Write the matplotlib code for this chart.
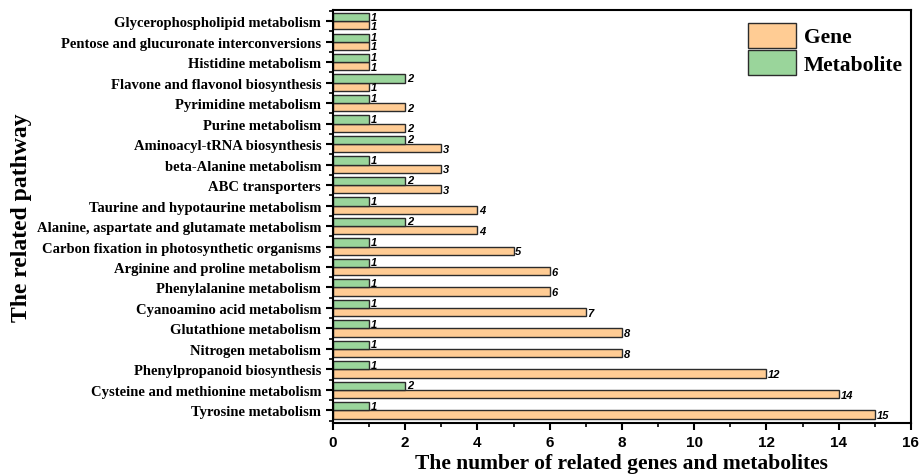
import matplotlib
matplotlib.use("Agg")
import matplotlib.pyplot as plt
import numpy as np
from matplotlib.ticker import MultipleLocator
from matplotlib.patches import Patch

pathways = [
    "Tyrosine metabolism",
    "Cysteine and methionine metabolism",
    "Phenylpropanoid biosynthesis",
    "Nitrogen metabolism",
    "Glutathione metabolism",
    "Cyanoamino acid metabolism",
    "Phenylalanine metabolism",
    "Arginine and proline metabolism",
    "Carbon fixation in photosynthetic organisms",
    "Alanine, aspartate and glutamate metabolism",
    "Taurine and hypotaurine metabolism",
    "ABC transporters",
    "beta-Alanine metabolism",
    "Aminoacyl-tRNA biosynthesis",
    "Purine metabolism",
    "Pyrimidine metabolism",
    "Flavone and flavonol biosynthesis",
    "Histidine metabolism",
    "Pentose and glucuronate interconversions",
    "Glycerophospholipid metabolism",
]
genes = [15, 14, 12, 8, 8, 7, 6, 6, 5, 4, 4, 3, 3, 3, 2, 2, 1, 1, 1, 1]
metabolites = [1, 2, 1, 1, 1, 1, 1, 1, 1, 2, 1, 2, 1, 2, 1, 1, 2, 1, 1, 1]

gene_color = "#FFCC94"
met_color = "#9AD59B"
edge = "#2b2b2b"
serif = "Liberation Serif"
sans = "Liberation Sans"

fig = plt.figure(figsize=(9.21, 4.77), dpi=100)
ax = fig.add_axes([0.3615, 0.111, 0.6275, 0.866])

y = np.arange(len(pathways))
h = 0.4
ax.barh(y - h / 2, genes, height=h, color=gene_color, edgecolor=edge, linewidth=1.0)
ax.barh(y + h / 2, metabolites, height=h, color=met_color, edgecolor=edge, linewidth=1.0)

# value labels at the bar ends
for yi, v in zip(y, genes):
    ax.text(v + 0.05, yi - h / 2 - 0.03, str(v), fontsize=8, fontstyle="italic", fontweight="bold",
            family=sans, va="center", ha="left")
for yi, v in zip(y, metabolites):
    ax.text(v + 0.05, yi + h / 2 + 0.03, str(v), fontsize=8, fontstyle="italic", fontweight="bold",
            family=sans, va="center", ha="left")

ax.set_xlim(0, 16)
ax.set_ylim(-0.62, 19.55)
ax.xaxis.set_major_locator(MultipleLocator(2))
ax.xaxis.set_minor_locator(MultipleLocator(1))
ax.set_yticks(y)
ax.set_yticks(np.arange(-0.5, len(pathways), 1), minor=True)
ax.set_yticklabels(pathways, fontsize=10.5, fontweight="bold", family=serif)
for lab in ax.get_xticklabels():
    lab.set_family(sans)
    lab.set_fontweight("bold")
    lab.set_fontsize(11)

ax.tick_params(axis="both", which="major", direction="out", length=5, width=1.5)
ax.tick_params(axis="both", which="minor", direction="out", length=3, width=1.2)
for s in ax.spines.values():
    s.set_linewidth(1.5)

ax.set_xlabel("The number of related genes and metabolites", fontsize=15.5, fontweight="bold",
              family=serif, labelpad=3)
ax.set_ylabel("The related pathway", fontsize=17, fontweight="bold", family=serif, labelpad=3)

handles = [Patch(facecolor=gene_color, edgecolor=edge, label="Gene"),
           Patch(facecolor=met_color, edgecolor=edge, label="Metabolite")]
ax.legend(handles=handles, loc="upper right", bbox_to_anchor=(1.009, 1.0), frameon=False,
          handlelength=2.2, handleheight=1.4,
          handletextpad=0.4, labelspacing=0.12, borderaxespad=0.3, borderpad=0.3,
          prop={"family": serif, "weight": "bold", "size": 15.5})

fig.savefig("out.png", dpi=100)
